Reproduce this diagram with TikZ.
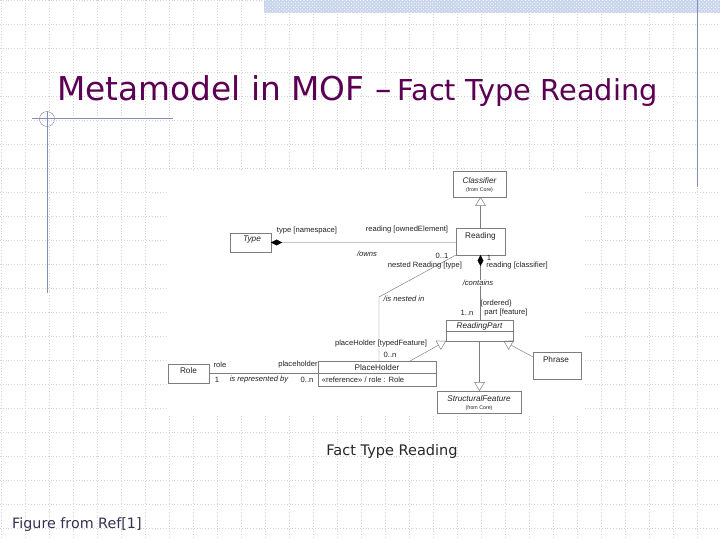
\documentclass[tikz,border=0pt]{standalone}
\usepackage{fontspec}
\setmainfont{DejaVu Sans}
\newfontfamily\umlfont{Liberation Sans}
\usetikzlibrary{calc,patterns,arrows.meta}

\definecolor{titlepurple}{RGB}{92,0,84}
\definecolor{decoblue}{RGB}{128,144,184}
\definecolor{bandblue}{RGB}{200,212,235}
\definecolor{gridgray}{RGB}{212,212,212}
\definecolor{umlline}{RGB}{125,125,125}
\definecolor{umltext}{RGB}{35,35,35}
\definecolor{captext}{RGB}{40,40,40}
\definecolor{figtext}{RGB}{50,50,80}

\begin{document}
\begin{tikzpicture}[x=0.03cm, y=-0.03cm,
  gridline/.style={draw=gridgray, line width=0.4pt, dotted},
  deco/.style={draw=decoblue, line width=0.6pt},
  umlbox/.style={draw=umlline, line width=0.4pt, inner sep=0pt, outer sep=0pt},
  lbl/.style={font=\umlfont\fontsize{6.5}{7}\selectfont, text=umltext, inner sep=0.5pt},
  ilbl/.style={lbl, font=\umlfont\fontsize{6.5}{7}\selectfont\itshape},
  namelbl/.style={lbl, font=\umlfont\fontsize{7}{8}\selectfont},
  inamelbl/.style={lbl, font=\umlfont\fontsize{7}{8}\selectfont\itshape},
  tinylbl/.style={lbl, font=\umlfont\fontsize{4.5}{5}\selectfont},
  assoc/.style={draw=umlline, line width=0.4pt},
  gen/.style={assoc, -{Triangle[open, length=7.5pt, width=9pt]}},
  comp/.style={assoc, {Diamond[length=9.5pt, width=5pt, color=black]}-}
]

\useasboundingbox (0,0) rectangle (720,540);
\fill[white] (0,0) rectangle (720,540);

% background grid
\foreach \gx in {1,25,...,721} \draw[gridline] (\gx,0) -- (\gx,540);
\foreach \gy in {0,24,...,540} \draw[gridline] (0,\gy) -- (720,\gy);

% top band and frame lines
\fill[bandblue] (264,0) rectangle (720,13);
\fill[pattern=crosshatch dots, pattern color=white] (264,0) rectangle (720,13);
\draw[deco] (697,0) -- (697,187);
\draw[deco] (32,118) -- (173,118);
\draw[deco] (47,111) -- (47,293);
\draw[deco, line width=0.4pt] (47,119) circle (7.5);

% title
\node[anchor=base west, inner sep=0pt, text=titlepurple, font=\fontsize{28}{33}\selectfont] (titleA) at (57,101) {Metamodel in MOF –};
\node[anchor=base east, inner sep=0pt, text=titlepurple, font=\fontsize{24.6}{29}\selectfont] (titleB) at (658,101) {Fact Type Reading};

% diagram area
\fill[white] (168,170) rectangle (585,414);

% classes
\node[umlbox, minimum width=1.59cm, minimum height=0.78cm] (classifier) at (479.5,184) {};
\node[inamelbl] (classifierName) at (479.5,181) {Classifier};
\node[tinylbl] (classifierPkg) at (479.5,190) {(from Core)};

\node[umlbox, minimum width=1.47cm, minimum height=0.81cm] (reading) at (480.5,241.5) {};
\node[namelbl] (readingName) at (480.5,236) {Reading};

\node[umlbox, minimum width=1.23cm, minimum height=0.57cm] (type) at (250.5,242.5) {};
\node[inamelbl] (typeName) at (252,240) {Type};

\node[umlbox, minimum width=2.01cm, minimum height=0.63cm] (readingPart) at (479.5,330.5) {};
\node[inamelbl] (readingPartName) at (479.5,326) {ReadingPart};
\draw[assoc] ($(readingPart.north west)+(0,11)$) -- ($(readingPart.north east)+(0,11)$);

\node[umlbox, minimum width=1.44cm, minimum height=0.81cm] (phrase) at (557,365.5) {};
\node[namelbl] (phraseName) at (556,360) {Phrase};

\node[umlbox, minimum width=3.54cm, minimum height=0.75cm] (placeHolder) at (377,373.5) {};
\node[namelbl] (placeHolderName) at (377,367.5) {PlaceHolder};
\draw[assoc] (placeHolder.west) -- (placeHolder.east);
\node[lbl, anchor=west] (placeHolderAttr) at (321,380) {«reference» / role : Role};

\node[umlbox, minimum width=1.23cm, minimum height=0.57cm] (role) at (188.5,373.5) {};
\node[namelbl] (roleName) at (188.5,371) {Role};

\node[umlbox, minimum width=2.52cm, minimum height=0.66cm] (structFeature) at (479,402) {};
\node[inamelbl] (structFeatureName) at (479,399) {StructuralFeature};
\node[tinylbl] (structFeaturePkg) at (479,408) {(from Core)};

% generalizations
\draw[gen] (reading.north) -- (reading.north |- classifier.south);
\coordinate (phGen) at (410,361);
\draw[gen] (phGen) -- (readingPart.south west);
\draw[gen] ($(phrase.north west)+(0,5)$) -- ($(readingPart.south)+(24,0)$);
\draw[gen] (readingPart.south) -- (readingPart.south |- structFeature.north);

% associations
\draw[comp, draw=umlline!45] (type.east) -- (type.east -| reading.west);
\node[lbl] (typeRole) at (307,231) {type [namespace]};
\node[lbl] (readingRole) at (407,230) {reading [ownedElement]};
\node[ilbl] (owns) at (367,254) {/owns};

\draw[comp] (reading.south) -- (reading.south |- readingPart.north);
\node[lbl] (readingMult) at (489,258) {1};
\node[lbl] (classifierRole) at (517,266) {reading [classifier]};
\node[ilbl, fill=white] (contains) at (478,283) {/contains};
\node[lbl] (partMult) at (467,313) {1..n};
\node[lbl] (ordered) at (496,304) {\{ordered\}};
\node[lbl] (partRole) at (506,313) {part [feature]};

\coordinate (nestBend) at (379,297);
\draw[assoc] (reading.south west) -- (nestBend) -- (nestBend |- placeHolder.north);
\node[lbl] (nestedMult) at (442,256) {0..1};
\node[lbl] (nestedRole) at (425,266) {nested Reading [type]};
\node[ilbl] (nestedIn) at (404,299) {/is nested in};
\node[lbl, fill=white] (typedRole) at (381,344) {placeHolder [typedFeature]};
\node[lbl] (typedMult) at (390,355) {0..n};

\draw[assoc] (role.east) -- (role.east -| placeHolder.west);
\node[lbl] (roleRole) at (220,365) {role};
\node[lbl] (holderRole) at (298,365) {placeholder};
\node[lbl] (roleMult) at (217,380) {1};
\node[ilbl] (represented) at (259,380) {is represented by};
\node[lbl] (holderMult) at (307,380) {0..n};

% caption and source
\node[text=captext, font=\fontsize{12.4}{14}\selectfont] (caption) at (392,451) {Fact Type Reading};
\node[anchor=base west, inner sep=0pt, text=figtext, font=\fontsize{12.2}{14}\selectfont] (source) at (12,528) {Figure from Ref[1]};

\end{tikzpicture}
\end{document}
